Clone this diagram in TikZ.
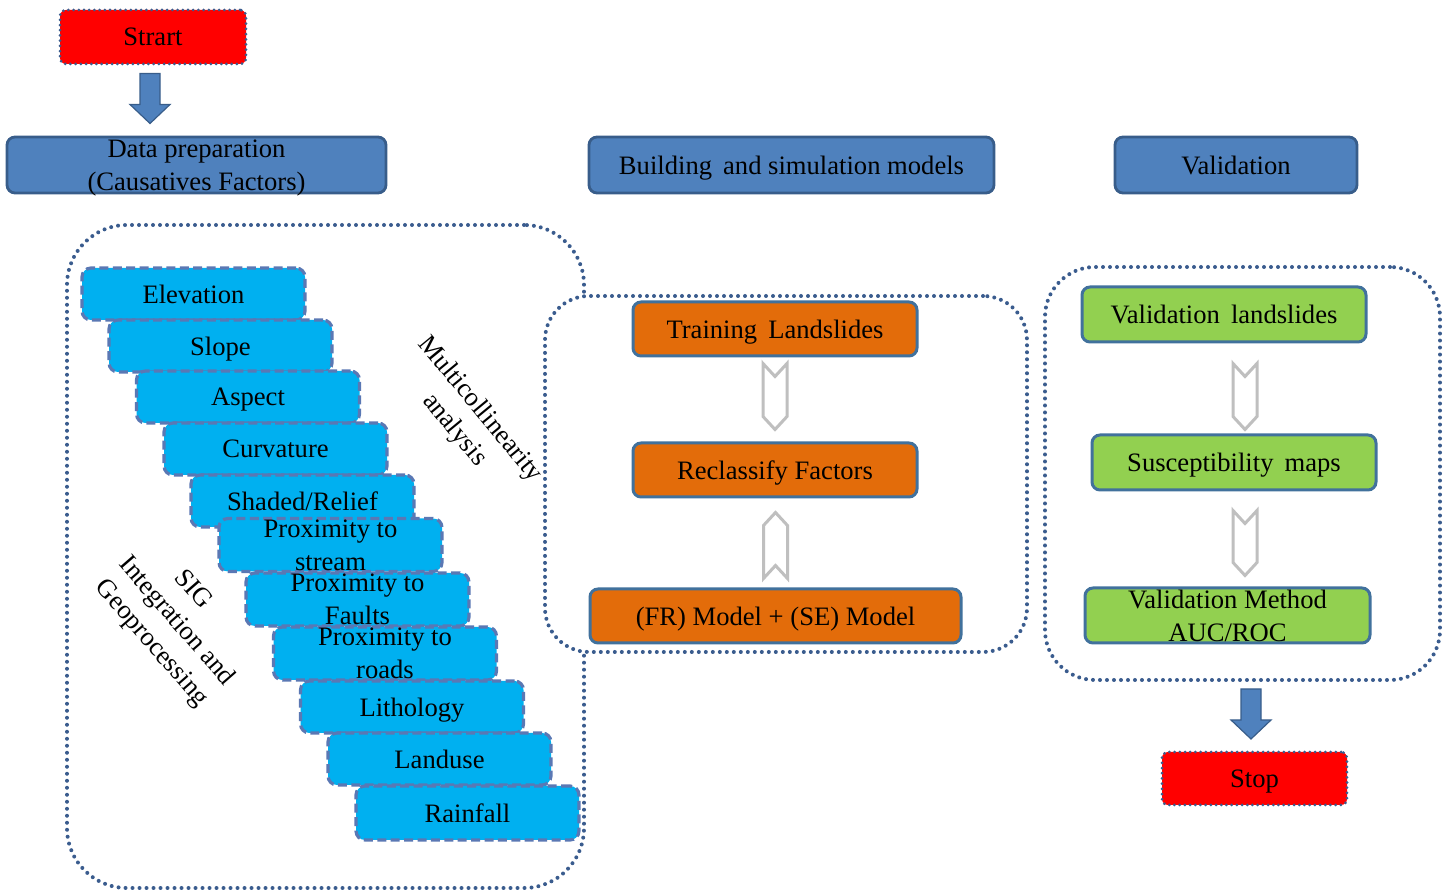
\documentclass[tikz,border=0pt]{standalone}
\usepackage{fontspec}
\setmainfont{Liberation Serif}
\usetikzlibrary{calc}
\definecolor{hdrblue}{HTML}{4F81BD}
\definecolor{hdrline}{HTML}{385D8A}
\definecolor{boxline}{HTML}{41719C}
\definecolor{orangef}{HTML}{E36C0A}
\definecolor{greenf}{HTML}{92D050}
\definecolor{cyanf}{HTML}{00B0F0}
\definecolor{dashline}{HTML}{5A78B4}
\definecolor{dotline}{HTML}{3A5C8E}
\definecolor{hollowc}{HTML}{BFBFBF}
\begin{document}
\begin{tikzpicture}[x=0.5pt,y=-0.5pt,
  every node/.style={font=\fontsize{13.3}{16.5}\selectfont, text=black, inner sep=0pt, align=center},
  lbl/.style={text depth=0pt},
  hdr/.style={lbl, draw=hdrline, line width=1.4pt, fill=hdrblue, rounded corners=4pt, minimum height=28pt},
  obox/.style={lbl, draw=boxline, line width=1.5pt, fill=orangef, rounded corners=4pt, minimum height=27pt},
  gbox/.style={lbl, draw=boxline, line width=1.5pt, fill=greenf, rounded corners=4pt, minimum height=27.5pt},
  redbox/.style={lbl, fill=red, draw=dotline, line width=1.5pt, dash pattern=on 0pt off 2.6pt, line cap=round, rounded corners=3pt},
  factor/.style={lbl, draw=dashline, fill=cyanf, line width=1.6pt, dash pattern=on 4.5pt off 2.2pt, rounded corners=4.5pt, minimum width=111.5pt, minimum height=26pt},
  container/.style={draw=dotline, line width=2pt, dash pattern=on 0pt off 3.5pt, line cap=round},
  barrow/.style={fill=hdrblue, draw=hdrline, line width=0.6pt},
  hollowarr/.style={draw=hollowc, fill=white, line width=1.5pt, line join=miter}
]
\useasboundingbox (0,0) rectangle (1448,892);

% containers
\node[container, rounded corners=30pt, minimum width=258.5pt, minimum height=331.5pt] (cont1) at (325.5,556.5) {};
\node[container, fill=white, rounded corners=22pt, minimum width=241pt, minimum height=178pt] (cont2) at (786,474) {};
\node[container, rounded corners=25pt, minimum width=197.5pt, minimum height=206.5pt] (cont3) at (1242.5,473.5) {};

% start and headers
\node[redbox, minimum width=93pt, minimum height=27pt] (start) at (153,37) {Strart};
\node[hdr, minimum width=189.5pt] (prep) at (196.5,165) {Data preparation\\(Causatives Factors)};
\node[hdr, minimum width=202.5pt] (build) at (791.5,165) {Building\, and simulation models};
\node[hdr, minimum width=121pt] (valid) at (1236,165) {Validation};

\draw[barrow] ($(start.south)+(-13,8)$) -- ++(20,0) -- ++(0,31) -- ++(10,0) -- ++(-20,19) -- ++(-20,-19) -- ++(10,0) -- cycle;

% factor stack
\node[factor] (elev) at (193.5,294) {Elevation};
\node[factor] (slope) at (220.5,346) {Slope};
\node[factor] (aspect) at (248,397) {Aspect};
\node[factor] (curv) at (275.5,449) {Curvature};
\node[factor] (shaded) at (302.5,501) {Shaded/Relief};
\node[factor, minimum height=26.5pt] (pstream) at (330.5,545) {Proximity to\\stream};
\node[factor, minimum height=26.5pt] (pfault) at (357.5,599.5) {Proximity to\\Faults};
\node[factor, minimum height=26.5pt] (proad) at (385,653.5) {Proximity to\\roads};
\node[factor] (litho) at (412,707) {Lithology};
\node[factor] (landuse) at (439.5,759) {Landuse};
\node[factor, minimum height=27pt] (rain) at (467.5,813) {Rainfall};

\node[rotate=-50.5] (multi) at (467,420) {Multicollinearity\\analysis};
\node[rotate=-49] (sig) at (176,622) {SIG\hspace*{1em}\\Integration and\\Geoprocessing};

% middle column
\node[obox, minimum width=142pt] (train) at (775,329) {Training\, Landslides};
\node[obox, minimum width=142pt] (reclass) at (775,470) {Reclassify Factors};
\node[obox, minimum width=185.5pt] (frse) at (775.5,616) {(FR) Model + (SE) Model};

\draw[hollowarr] ($(train.south)+(-12,6)$) -- ++(12,13) -- ++(12,-13) -- ++(0,53) -- ++(-12,13) -- ++(-12,-13) -- cycle;
\draw[hollowarr] ($(frse.north)+(-12,-9)$) -- ++(12,-13) -- ++(12,13) -- ++(0,-53) -- ++(-12,-13) -- ++(-12,13) -- cycle;

% right column
\node[gbox, minimum width=142pt] (vland) at (1224,314.5) {Validation\, landslides};
\node[gbox, minimum width=142pt] (susc) at (1234,462.5) {Susceptibility\, maps};
\node[gbox, minimum width=142.5pt] (vmeth) at (1227.5,615.5) {Validation Method\\AUC/ROC};

\draw[hollowarr] ($(vland.south)+(9,20)$) -- ++(12,13) -- ++(12,-13) -- ++(0,53) -- ++(-12,13) -- ++(-12,-13) -- cycle;
\draw[hollowarr] ($(susc.south)+(-1,19)$) -- ++(12,13) -- ++(12,-13) -- ++(0,52) -- ++(-12,13) -- ++(-12,-13) -- cycle;

\node[redbox, minimum width=92.5pt, minimum height=26.5pt] (stop) at (1254.5,778.5) {Stop};
\draw[barrow] ($(cont3.south)+(-1.5,7)$) -- ++(20,0) -- ++(0,31) -- ++(10,0) -- ++(-20,19) -- ++(-20,-19) -- ++(10,0) -- cycle;
\end{tikzpicture}
\end{document}
